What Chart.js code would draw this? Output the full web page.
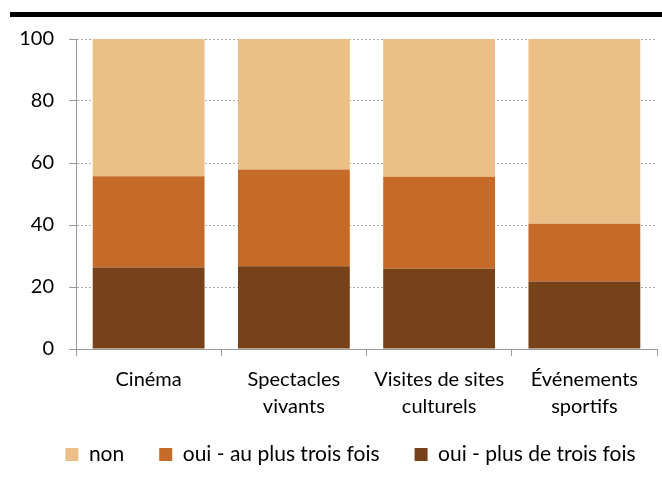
<!DOCTYPE html>
<html>
<head>
<meta charset="utf-8">
<script src="https://cdn.jsdelivr.net/npm/chart.js@4"></script>
<style>
  html, body { margin: 0; padding: 0; background: #fff; }
  #wrap { position: relative; width: 662px; height: 477px; }
  #topbar { position: absolute; left: 10px; right: 0; top: 12px; height: 5px; background: #000; }
</style>
</head>
<body>
<div id="wrap">
  <div id="topbar"></div>
  <canvas id="chart" width="662" height="477"></canvas>
</div>
<script>
const categories = [["Cinéma"], ["Spectacles", "vivants"], ["Visites de sites", "culturels"], ["Événements", "sportifs"]]
const plusDeTrois = [26.3, 26.7, 25.9, 21.8]
const auPlusTrois = [29.4, 31.2, 29.7, 18.6]
const non = [44.3, 42.1, 44.4, 59.6]
const yTicks = [0, 20, 40, 60, 80, 100]

const FONT = "Lato"
const LEGEND_DX = 22
const LEGEND_DY = -8

// nudge the legend box after layout so it sits where the original one does
const legendShift = {
  id: "legendShift",
  afterLayout(chart) {
    const l = chart.legend
    l.left += LEGEND_DX
    l.right += LEGEND_DX
    l.top += LEGEND_DY
    l.bottom += LEGEND_DY
  },
}

function initChart() {
  const ctx = document.getElementById("chart").getContext("2d")
  new Chart(ctx, {
    type: "bar",
    data: {
      labels: categories,
      datasets: [
        { label: "oui - plus de trois fois", data: plusDeTrois, backgroundColor: "#77421A" },
        { label: "oui - au plus trois fois", data: auPlusTrois, backgroundColor: "#C66A29" },
        { label: "non", data: non, backgroundColor: "#EBBF87" },
      ],
    },
    plugins: [legendShift],
    options: {
      responsive: false,
      animation: false,
      barPercentage: 0.77,
      categoryPercentage: 1,
      layout: { padding: { top: 39, right: 5, left: 0, bottom: 0 } },
      plugins: {
        tooltip: { enabled: false },
        legend: {
          position: "bottom",
          reverse: true,
          maxHeight: 60,
          labels: {
            boxWidth: 13,
            boxHeight: 13,
            padding: 35,
            color: "#000",
            font: { family: FONT, size: 21 },
          },
        },
      },
      scales: {
        x: {
          stacked: true,
          afterFit: (scale) => { scale.height = 68 },
          grid: { offset: true, drawOnChartArea: false, tickLength: 7, color: "#999", tickWidth: 1 },
          border: { color: "#999", width: 1 },
          ticks: { color: "#000", padding: 10, font: { family: FONT, size: 20, lineHeight: "27px" }, maxRotation: 0 },
        },
        y: {
          stacked: true,
          min: 0,
          max: 100,
          afterBuildTicks: (scale) => { scale.ticks = yTicks.map((v) => ({ value: v })) },
          afterFit: (scale) => { scale.width = 76 },
          grid: { color: "#aaa", tickLength: 7, tickColor: "#999", tickBorderDash: [] },
          border: { color: "#999", width: 1, dash: [2, 2] },
          ticks: { color: "#000", padding: 15, font: { family: FONT, size: 20 } },
        },
      },
    },
  })
}

document.addEventListener("DOMContentLoaded", initChart)
</script>
</body>
</html>
